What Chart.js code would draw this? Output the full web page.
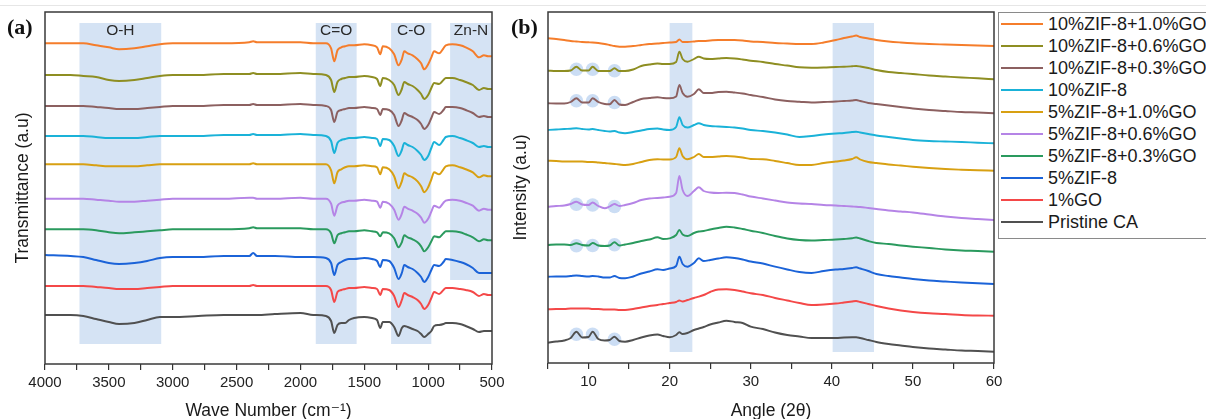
<!DOCTYPE html>
<html><head><meta charset="utf-8">
<script src="https://cdn.jsdelivr.net/npm/chart.js@4.4.0/dist/chart.umd.min.js"></script>
<style>
html,body{margin:0;padding:0;background:#fff;}
body{width:1206px;height:419px;position:relative;overflow:hidden;font-family:"Liberation Sans",Arial,sans-serif;}
#topline{position:absolute;left:0;top:5px;width:1206px;height:1px;background:#e6e6e6;}
canvas{position:absolute;top:0;}
#ca{left:0;}
#cb{left:500px;}
.plabel{position:absolute;top:14px;font-family:"Liberation Serif","Times New Roman",serif;font-weight:bold;font-size:22px;line-height:26px;color:#111;}
#legend{position:absolute;left:998px;top:12px;width:230px;height:227px;border:1px solid #8a8a8a;box-sizing:border-box;background:#fff;}
.li{position:absolute;left:0;height:22px;display:flex;align-items:center;white-space:nowrap;font-size:18px;color:#1a1a1a;}
.li .sw{display:inline-block;width:42px;height:2px;margin-left:2px;margin-right:5px;}
</style></head>
<body>
<div id="topline"></div>
<canvas id="ca" width="520" height="419"></canvas>
<canvas id="cb" width="706" height="419"></canvas>
<div class="plabel" style="left:7px">(a)</div>
<div class="plabel" style="left:511px">(b)</div>
<div id="legend"></div>
<script>
// ---------- series (top to bottom, as in legend) ----------
const seriesNames = ['10%ZIF-8+1.0%GO','10%ZIF-8+0.6%GO','10%ZIF-8+0.3%GO','10%ZIF-8','5%ZIF-8+1.0%GO','5%ZIF-8+0.6%GO','5%ZIF-8+0.3%GO','5%ZIF-8','1%GO','Pristine CA'];
const seriesColors = ['#F57D2B','#8E8E22','#8C6060','#1AB2D8','#D8A012','#B584E6','#2A9A5E','#1B63D8','#F44848','#505050'];

// ---------- (a) FTIR ----------
const ftirWavenumber = [4000,3800,3700,3600,3500,3420,3300,3200,3100,3000,2800,2600,2400,2370,2340,2200,2000,1900,1800,1760,1735,1710,1680,1650,1620,1580,1500,1440,1400,1375,1355,1305,1266,1232,1206,1187,1160,1122,1083,1055,1031,1000,975,953,914,880,862,810,750,706,650,602,563,530,500];
const ftirOffsets = [320.7,289,258,228,199.7,165.3,134.7,109,78,49];
const ftirZ10G10 = [0,0,0,-2,-4,-6,-5,-3,-1,0,0,0,1,2,1,1,1,0,0,-5,-18,-7,-4,-3,-2,-2,-1,-2,-4,-11,-3,-5,-11,-22,-16,-8,-10,-12,-16,-20,-26,-21,-14,-8,-10,-5,-2,-1,-2,-4,-8,-14,-12,-13,-13];
const ftirZ10G06 = [0,0,-1,-2,-5,-6,-5,-3,-1,0,0,1,1,2,1,1,2,1,0,-5,-17,-7,-4,-3,-2,-2,-1,-2,-4,-11,-3,-5,-10,-20,-14,-7,-9,-11,-15,-19,-24,-20,-13,-8,-9,-5,-3,-3,-5,-7,-10,-15,-13,-14,-14];
const ftirZ10G03 = [0,0,0,-1,-2,-3,-3,-2,-1,0,0,1,1,2,1,1,2,1,0,-4,-16,-6,-4,-3,-2,-2,-1,-2,-3,-9,-3,-4,-9,-20,-14,-7,-9,-11,-14,-18,-23,-19,-12,-6,-8,-4,-1,-1,-2,-4,-7,-11,-10,-11,-11];
const ftirZ10 = [0,0,0,-1,-2,-2,-2,-1,0,0,0,1,1,2,1,1,2,1,0,-5,-17,-7,-4,-3,-2,-2,-1,-2,-3,-10,-3,-4,-10,-20,-14,-7,-9,-11,-15,-19,-24,-20,-12,-6,-9,-4,-1,0,-2,-4,-7,-11,-10,-11,-11];
const ftirZ5G10 = [0,0,0,-1,-2,-2,-2,-1,0,0,0,0,0,1,0,0,0,0,0,-6,-19,-8,-5,-3,-2,-2,-1,-2,-3,-10,-3,-5,-12,-24,-17,-9,-11,-13,-17,-22,-28,-23,-15,-8,-10,-5,-2,-1,-3,-5,-8,-13,-11,-12,-12];
const ftirZ5G06 = [0,0,0,-1,-2,-3,-3,-2,-1,0,0,0,1,1,0,0,1,0,0,-5,-17,-7,-4,-3,-2,-2,-1,-2,-3,-9,-3,-5,-11,-21,-15,-8,-10,-12,-15,-19,-24,-20,-13,-7,-9,-4,-2,-1,-2,-4,-7,-12,-10,-11,-11];
const ftirZ5G03 = [0,0,0,-1,-3,-4,-3,-2,-1,0,0,0,1,2,1,1,1,0,0,-4,-14,-6,-4,-3,-2,-2,-1,-2,-3,-7,-3,-4,-9,-18,-13,-6,-8,-10,-13,-17,-22,-18,-12,-7,-8,-4,-2,-2,-3,-5,-8,-12,-10,-11,-11];
const ftirZ5 = [0,-1,-2,-5,-8,-9,-8,-6,-3,-2,-2,-1,-1,2,-1,-1,-2,-2,-3,-8,-20,-10,-7,-5,-4,-4,-3,-4,-6,-12,-5,-6,-13,-24,-18,-10,-12,-14,-18,-22,-27,-22,-15,-10,-11,-7,-4,-5,-7,-9,-13,-18,-18,-18,-18];
const ftirGO1 = [0,0,0,-1,-2,-3,-3,-2,-1,0,0,0,0,1,0,0,0,0,0,-4,-16,-6,-4,-3,-2,-2,-1,-2,-3,-9,-3,-4,-10,-21,-14,-7,-9,-11,-14,-18,-23,-19,-12,-6,-8,-4,-2,-2,-3,-4,-6,-10,-8,-9,-9];
const ftirCA = [0,0,-1,-4,-7,-9,-8,-5,-2,-2,-1,0,0,0,0,1,2,0,-1,-6,-18,-10,-8,-8,-5,-3,-2,-3,-5,-13,-7,-7,-12,-21,-13,-11,-12,-14,-16,-19,-22,-19,-16,-11,-10,-9,-8,-8,-9,-11,-14,-17,-16,-16,-16];
const ftirSeries = [ftirZ10G10,ftirZ10G06,ftirZ10G03,ftirZ10,ftirZ5G10,ftirZ5G06,ftirZ5G03,ftirZ5,ftirGO1,ftirCA];
const ftirBands = [[3730,3090],[1880,1560],[1290,975],[828,500]];
const ftirBandLabels = ['O-H','C=O','C-O','Zn-N'];
const ftirTickLabels = [500,1000,1500,2000,2500,3000,3500,4000];

// ---------- (b) XRD ----------
const xrdAngle = [5,6,7,7.8,8.5,9.2,10,10.5,11.2,12,12.6,13.2,13.8,14.5,15.5,16.5,17.5,18.5,19.2,20,20.8,21.2,21.6,22.2,23,23.6,24.2,25,26,27,28,29,30,31.5,33,34.5,36,37.5,39,40.5,41.5,42.5,43,43.5,44.5,45.5,47,48.5,50,52,54,56,58,60];
const xrdOffsets = [324.7,292.3,259.7,233,202.3,156.3,118,86.3,53.7,20.3];
const xrdZ10G10 = [0,-0.7,-1.7,-2.7,-3.2,-3.7,-4,-4.2,-4.7,-5.7,-6.7,-7.7,-8.4,-8.4,-7.7,-6.7,-5.7,-5.2,-4.7,-4.2,-3.7,-1.2,-3.7,-3.7,-3.2,-2.7,-2.7,-2.2,-1.7,-1.7,-1.7,-2.2,-3.2,-3.7,-4.7,-5.2,-5.7,-5.7,-4.2,-1.7,0.3,1.8,2.8,1.3,-0.2,-1.7,-3.2,-4.2,-5,-5.7,-6.2,-6.7,-7.2,-7.7];
const xrdZ10G06 = [0,-0.3,-0.3,0.2,4,0.2,0.2,4,-0.3,-0.3,-0.3,2.4,-0.3,-0.3,1.2,4.7,6.2,7.2,6.7,6.7,8.7,19,11.7,9,11.7,14,12.2,11.7,12.2,12.7,12.2,11.2,10,8.7,6.7,5.2,3.4,3,3.2,3.7,3.9,4.4,4.7,4.2,2.7,0.7,-1.3,-2.3,-3.3,-4.8,-5.8,-6.8,-7.6,-8.6];
const xrdZ10G03 = [0,-0.2,-0.2,1.3,5,0.8,0.8,5,1.3,-0.7,-1,3.3,-1.2,-1.7,1.3,4.3,5.3,6,5.3,5,6.8,18.3,10.3,6.6,9.3,14,10.3,10.3,11.3,11.6,10.8,9.8,8.3,6.3,3.8,2.3,1.6,0.8,1.3,1.8,2.3,2.8,3.3,2.3,0.3,-0.7,-2.2,-3.7,-5.2,-6.7,-7.7,-8.7,-9.2,-10];
const xrdZ10 = [0,0.5,1,1.3,1.7,1,0.5,1,0,-1,-1.5,-1,-2.5,-3.3,-2,-0.5,1,1.5,0.5,0,3,12.7,5,2.5,5,6.7,5,4,3.5,3,2.5,1.5,0,-1,-2.5,-4.5,-7,-6,-4.5,-3.5,-3,-2,-1.7,-2.5,-4,-5.5,-7,-8.5,-10,-11,-11.5,-12,-12.7,-13.3];
const xrdZ5G10 = [0,-0.3,-0.8,-0.8,-0.8,-0.8,-1.3,-1.3,-1.8,-2.3,-2.8,-3.3,-3.8,-4.3,-3.3,-1.3,0.7,1.4,1.2,1.2,3.7,12.4,4.7,1.4,3.7,6.7,3.7,3.7,4.2,4.7,4.2,3.2,1.7,1.4,-0.3,-2.3,-4.3,-4.3,-2.3,-0.8,0.2,1.7,3.4,1.2,-1.3,-2.3,-3.8,-4.8,-6,-7.3,-8.3,-9,-9.6,-10];
const xrdZ5G06 = [0,0.7,1.2,2.7,5,2.2,1.7,4.2,0.7,-1.6,0.2,2.7,0.7,1.7,3.7,6.7,8.2,8.7,9.2,10,13.7,30.7,16.7,10.7,15.7,19.4,15.7,14.2,13.7,14,13.7,12.2,10.2,8.2,6.2,4.2,3.2,2.7,1.7,1.2,0.7,0.2,0,-0.3,-1.3,-2.3,-3.8,-4.8,-5.8,-7.8,-9.8,-11.3,-12.3,-13.3];
const xrdZ5G03 = [0,0.5,0.5,0,1.7,0,-0.5,2,-0.5,-1,-0.5,2.7,-0.5,0.5,2,4,5.5,7.7,6,6.7,10,15,10.5,9,12,13.5,14,15.5,17,18.3,17.5,16,14.3,12,9,6.5,5,4.5,5,5.5,6,6.7,7.5,6.5,4,2,1,-0.5,-1.7,-3,-4.5,-5.5,-6,-6.7];
const xrdZ5 = [0,0.2,0.2,0.7,1.2,0.7,0.2,0.7,0.2,-0.8,-0.8,0.7,-1.3,-1.6,0.2,3.2,5.2,7.4,6.7,8.2,10.7,20,12.7,10,13.7,18.4,15.7,16.7,18.2,19.4,18.7,17.2,15.2,13.2,10,7.2,4.7,3.7,5.7,7.2,7.7,8.7,9.4,8.2,5.7,2.7,0.7,-0.8,-2.3,-3.8,-4.8,-5.8,-6.6,-7.3];
const xrdGO1 = [0,0.3,0.3,0.8,0.8,0.8,0.8,0.3,0.3,-0.2,-0.2,-0.2,-0.7,-0.7,0.3,1.8,3.3,4.3,5.3,6.3,7.3,8.8,7.8,9.3,11.3,12.6,14.3,17.3,19.8,20,19.3,17.8,16,14.3,11.3,8.8,6.3,4.3,4.8,5.8,6.8,7.8,8.3,7.3,5.3,3.3,0.8,-1.2,-2.7,-4,-4.7,-5.7,-6.2,-6.4];
const xrdCA = [0,1.2,2.2,4.7,11,5.2,5.7,11,3.7,2.2,2.7,6,1.7,1,2.7,5.2,7.2,8.2,6.7,5.4,7.7,10.4,8.7,9.7,12.7,14.2,15.7,18.2,20.2,22,20.7,19.7,16,13.7,10.2,7.7,6.2,4.7,4.7,4.7,5.2,5.4,5.4,4.7,2.7,0.7,-1.3,-2.8,-4.3,-5.8,-6.8,-7.8,-8.3,-9];
const xrdSeries = [xrdZ10G10,xrdZ10G06,xrdZ10G03,xrdZ10,xrdZ5G10,xrdZ5G06,xrdZ5G03,xrdZ5,xrdGO1,xrdCA];
const xrdBands = [[20,22.8],[40.1,45.2]];
const xrdTickLabels = [10,20,30,40,50,60];
// ZIF-8 reflections marked with circles, and the series that carry them
const xrdMarkedAngles = [8.5,10.5,13.2];
const xrdMarkedSeries = ['10%ZIF-8+0.6%GO','10%ZIF-8+0.3%GO','5%ZIF-8+0.6%GO','5%ZIF-8+0.3%GO','Pristine CA'];

// ---------- drawing ----------
const FONT = "'Liberation Sans', Arial, 'DejaVu Sans', sans-serif";
Chart.defaults.font.family = FONT;
Chart.defaults.color = '#222';

function zeroPadding(s){ s.paddingLeft = 0; s.paddingRight = 0; s.paddingTop = 0; s.paddingBottom = 0; }

const bandsPlugin = {
  id: 'bands',
  beforeDatasetsDraw(chart, args, o) {
    const {ctx, scales: {x, y}} = chart;
    ctx.save();
    o.bands.forEach((b, i) => {
      const x1 = x.getPixelForValue(b[0]), x2 = x.getPixelForValue(b[1]);
      const yt = y.getPixelForValue(o.top), yb = y.getPixelForValue(o.bottoms[i]);
      ctx.fillStyle = o.color;
      ctx.fillRect(Math.min(x1, x2), yt, Math.abs(x2 - x1), yb - yt);
      if (o.labels && o.labels[i]) {
        ctx.fillStyle = '#2a2a2a';
        ctx.font = "15.5px " + FONT;
        ctx.textAlign = 'center';
        ctx.textBaseline = 'middle';
        ctx.fillText(o.labels[i], (x1 + x2) / 2, yt + 8);
      }
    });
    ctx.restore();
  },
  afterDraw(chart) {
    const {ctx, chartArea: a} = chart;
    ctx.save();
    ctx.strokeStyle = '#3a3a3a';
    ctx.lineWidth = 1.5;
    ctx.strokeRect(a.left, a.top, a.right - a.left, a.bottom - a.top);
    ctx.restore();
  }
};

function lineDatasets(xs, series, offsets, width) {
  return series.map((s, k) => ({
    label: seriesNames[k],
    data: xs.map((xv, i) => ({x: xv, y: offsets[k] + s[i]})),
    borderColor: seriesColors[k],
    borderWidth: width,
    pointRadius: 0,
    cubicInterpolationMode: 'monotone',
    fill: false,
    order: 0
  }));
}

function xScale(opts) {
  return Object.assign({
    type: 'linear',
    position: 'bottom',
    border: {display: false},
    grid: {display: true, drawOnChartArea: false, drawTicks: true, tickLength: 6, color: '#333', lineWidth: 1.2},
    ticks: {autoSkip: false, maxRotation: 0, padding: 4, color: '#222', font: {size: 15}},
    title: {display: true, color: '#1a1a1a', font: {size: 17.5, lineHeight: 0.9}, padding: {top: 0, bottom: 0}},
    afterFit(s) { zeroPadding(s); }
  }, opts);
}
function yScale(opts) {
  return Object.assign({
    type: 'linear',
    border: {display: false},
    grid: {display: false},
    ticks: {display: false},
    afterFit(s) { zeroPadding(s); }
  }, opts);
}

// chart (a)
const xa = xScale({min: 500, max: 4000, reverse: true});
xa.ticks = Object.assign({}, xa.ticks, {stepSize: 250, callback: v => ftirTickLabels.includes(v) ? String(v) : ''});
xa.title = Object.assign({}, xa.title, {text: 'Wave Number (cm\u207B\u00B9)'});
xa.afterFit = s => { zeroPadding(s); s.height = 55; };
const ya = yScale({min: 0, max: 352});
ya.title = {display: true, text: 'Transmittance (a.u)', color: '#1a1a1a', font: {size: 17.5, lineHeight: 1}, padding: {top: 14, bottom: 0}};
ya.afterFit = s => { zeroPadding(s); s.width = 45; };

new Chart(document.getElementById('ca'), {
  type: 'line',
  data: {datasets: lineDatasets(ftirWavenumber, ftirSeries, ftirOffsets, 2)},
  options: {
    responsive: false, animation: false,
    layout: {padding: {left: 0, top: 12, right: 28, bottom: 0}},
    plugins: {
      legend: {display: false}, tooltip: {enabled: false},
      bands: {bands: ftirBands, labels: ftirBandLabels, top: 341, bottoms: [20, 20, 20, 84], color: '#d5e3f4'}
    },
    scales: {x: xa, y: ya}
  },
  plugins: [bandsPlugin]
});

// chart (b)
const markerPoints = [];
xrdMarkedSeries.forEach(name => {
  const k = seriesNames.indexOf(name);
  xrdMarkedAngles.forEach(ang => {
    const i = xrdAngle.indexOf(ang);
    markerPoints.push({x: ang, y: xrdOffsets[k] + xrdSeries[k][i] - 2.5});
  });
});
const xrdDatasets = lineDatasets(xrdAngle, xrdSeries, xrdOffsets, 1.9);
xrdDatasets.push({
  label: 'ZIF-8 peaks',
  data: markerPoints,
  showLine: false,
  pointRadius: 6.8,
  pointBackgroundColor: 'rgba(168,198,236,0.6)',
  pointBorderWidth: 0,
  order: 1
});

const xb = xScale({min: 5, max: 60});
xb.ticks = Object.assign({}, xb.ticks, {stepSize: 5, callback: v => xrdTickLabels.includes(v) ? String(v) : ''});
xb.title = Object.assign({}, xb.title, {text: 'Angle (2\u03B8)'});
xb.afterFit = s => { zeroPadding(s); s.height = 56; };
const yb = yScale({min: 0, max: 351});
yb.title = {display: true, text: 'Intensity (a.u)', color: '#1a1a1a', font: {size: 17.5, lineHeight: 1}, padding: {top: 12.5, bottom: 0}};
yb.afterFit = s => { zeroPadding(s); s.width = 48; };

new Chart(document.getElementById('cb'), {
  type: 'line',
  data: {datasets: xrdDatasets},
  options: {
    responsive: false, animation: false,
    layout: {padding: {left: 0, top: 12, right: 212, bottom: 0}},
    plugins: {
      legend: {display: false}, tooltip: {enabled: false},
      bands: {bands: xrdBands, labels: null, top: 340, bottoms: [11, 11], color: '#d5e3f4'}
    },
    scales: {x: xb, y: yb}
  },
  plugins: [bandsPlugin]
});

// legend (HTML)
const lg = document.getElementById('legend');
seriesNames.forEach((n, k) => {
  const row = document.createElement('div');
  row.className = 'li';
  row.style.top = (k * 22) + 'px';
  const sw = document.createElement('span');
  sw.className = 'sw';
  sw.style.background = seriesColors[k];
  const tx = document.createElement('span');
  tx.textContent = n;
  row.appendChild(sw); row.appendChild(tx);
  lg.appendChild(row);
});
</script>
</body></html>
